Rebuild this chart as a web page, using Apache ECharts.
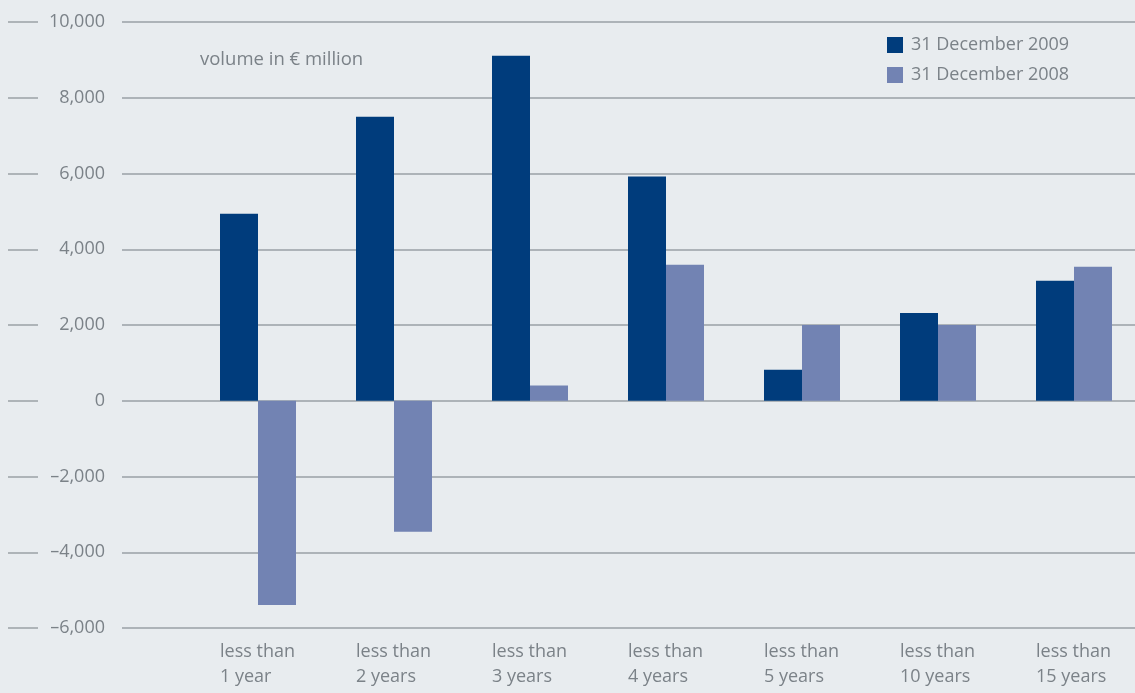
<!DOCTYPE html>
<html>
<head>
<meta charset="utf-8">
<script src="https://cdn.jsdelivr.net/npm/echarts@6/dist/echarts.min.js"></script>
<style>
  html, body { margin: 0; padding: 0; background: #e8ecef; }
  #chart { width: 1135px; height: 693px; }
</style>
</head>
<body>
<div id="chart"></div>
<script>
// Maturity buckets and volumes (€ million)
const categories = ['less than\n1 year', 'less than\n2 years', 'less than\n3 years', 'less than\n4 years',
                    'less than\n5 years', 'less than\n10 years', 'less than\n15 years'];
const seriesNames = ['31 December 2009', '31 December 2008'];
const values2009 = [4940, 7500, 9110, 5920, 820, 2320, 3170];
const values2008 = [-5390, -3460, 400, 3590, 2000, 2000, 3540];
const yTicks = [-6000, -4000, -2000, 0, 2000, 4000, 6000, 8000, 10000];
const unitLabel = 'volume in € million';

const yMin = yTicks[0];
const yMax = yTicks[yTicks.length - 1];
const yStep = yTicks[1] - yTicks[0];

const textColor = '#7b8288';
const lineColor = '#9aa1a6';
const font = '"Open Sans", "Noto Sans", sans-serif';

function fmt(v) {
  const s = Math.abs(v).toLocaleString('en-US');
  return v < 0 ? '\u2013' + s : s;
}

const plotTop = 22, plotBottom = 65;
const barW = 38;
const span = 816;   // distance from first to last category point (6 steps of 136px)
const chart = echarts.init(document.getElementById('chart'), null, { renderer: 'canvas' });

chart.setOption({
  animation: false,
  backgroundColor: '#e8ecef',
  textStyle: { fontFamily: font },
  title: {
    text: unitLabel,
    left: 200, top: 48, padding: 0,
    textStyle: { fontFamily: font, fontSize: 18.5, fontWeight: 'normal', color: textColor, lineHeight: 24 }
  },
  legend: {
    data: seriesNames,
    orient: 'vertical',
    left: 887, top: 36, padding: 0,
    itemWidth: 16, itemHeight: 16, itemGap: 12,
    icon: 'rect',
    textStyle: { fontFamily: font, fontSize: 18, lineHeight: 18, color: textColor, padding: [0, 0, 0, 3] }
  },
  grid: [
    { left: 122, right: 0, top: plotTop, bottom: plotBottom },          // gridlines + value labels
    { left: 258, width: span, top: plotTop, bottom: plotBottom },       // bars, pair centred on each point
    { left: 258 - barW, width: span, top: plotTop, bottom: plotBottom } // category labels, left-aligned to bars
  ],
  xAxis: [
    { type: 'value', gridIndex: 0, min: 0, max: 1, show: false },
    { type: 'category', gridIndex: 1, data: categories, boundaryGap: false, show: false },
    {
      type: 'category', gridIndex: 2, data: categories, boundaryGap: false,
      axisLine: { show: false }, axisTick: { show: false },
      axisLabel: {
        align: 'left', margin: 11, interval: 0,
        fontFamily: font, fontSize: 18, color: textColor, lineHeight: 25
      }
    }
  ],
  yAxis: [
    {
      type: 'value', gridIndex: 0, min: yMin, max: yMax, interval: yStep,
      axisLine: { show: false }, axisTick: { show: false },
      axisLabel: { margin: 17, fontFamily: font, fontSize: 18, color: textColor, formatter: fmt },
      splitLine: { lineStyle: { color: lineColor, width: 1.5 } }
    },
    {
      type: 'value', gridIndex: 0, min: yMin, max: yMax, interval: yStep,
      position: 'left', offset: 84,
      axisLine: { show: false },
      axisTick: { show: true, length: 30, lineStyle: { color: lineColor, width: 1.5 } },
      axisLabel: { show: false },
      splitLine: { show: false }
    },
    { type: 'value', gridIndex: 1, min: yMin, max: yMax, interval: yStep, show: false, splitLine: { show: false } },
    { type: 'value', gridIndex: 2, min: yMin, max: yMax, interval: yStep, show: false, splitLine: { show: false } }
  ],
  series: [
    {
      name: seriesNames[0], type: 'bar', xAxisIndex: 1, yAxisIndex: 2,
      data: values2009, barWidth: barW, barGap: '0%',
      itemStyle: { color: '#003c7c' }
    },
    {
      name: seriesNames[1], type: 'bar', xAxisIndex: 1, yAxisIndex: 2,
      data: values2008, barWidth: barW, barGap: '0%',
      itemStyle: { color: '#7283b3' }
    }
  ]
});
</script>
</body>
</html>
